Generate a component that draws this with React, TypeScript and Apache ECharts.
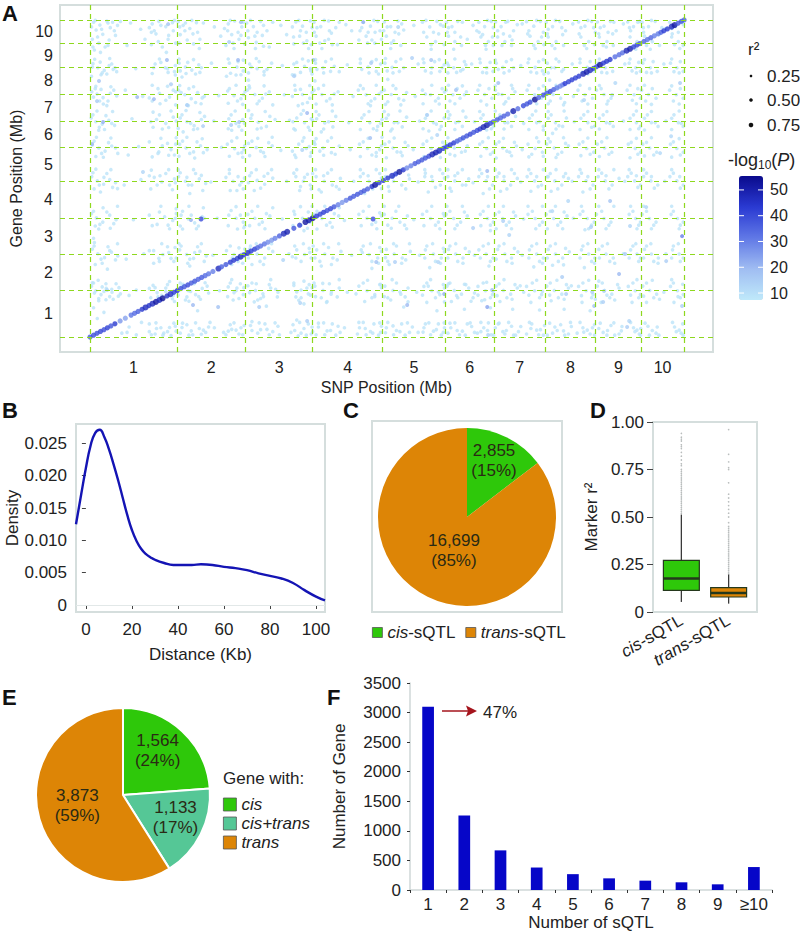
import React, { useEffect, useRef } from "react";
import * as echarts from "echarts";

const FONT = "'Liberation Sans', Arial, sans-serif";
const INK = "#222222";
const FRAME = "#d5dedd";
const GREEN = "#2ec80a";
const TEAL = "#55c796";
const ORANGE = "#dd8506";
const BLUE = "#0606c8";

// Panel A: chromosome boundaries (cumulative Mb)
const chromEdges = [0, 301, 538, 770, 1012, 1229, 1398, 1574, 1749, 1906, 2055];
const chromNames = ["1", "2", "3", "4", "5", "6", "7", "8", "9", "10"];
const chromMids = chromNames.map((_, i) => (chromEdges[i] + chromEdges[i + 1]) / 2);

// Background light points, flat x,y pairs
const bgChr1 = [12,2040,34,2022,58,2048,21,1990,70,2005,44,1962,8,1930,30,1905,52,1880,15,1860,66,1925,88,1955,10,1772,27,1745,49,1728,66,1760,5,1690,38,1700,80,1735,18,1610,6,1590,24,1575,45,1552,70,1580,92,1562,33,1530,58,1500,4,1420,20,1395,42,1380,65,1405,85,1372,30,1340,8,1245,30,1225,52,1205,75,1238,96,1190,20,1170,6,1040,25,1012,47,990,68,1020,88,1000,14,960,36,940,5,800,22,772,44,745,68,790,90,760,30,700,12,640,8,570,27,540,50,515,74,550,96,525,18,470,60,440,5,330,20,300,38,275,56,315,76,290,98,265,30,235,12,190,48,160,25,120,140,2035,175,1995,128,1890,190,1930,158,1740,122,1600,182,1560,145,1415,168,1235,132,1180,176,1020,118,985,150,760,186,540,125,505,160,305,135,270,178,95,128,30,160,14,215,2030,238,2046,262,2012,285,2038,228,1965,270,1930,296,1905,212,1895,250,1880,225,1770,260,1745,292,1720,240,1580,275,1555,215,1530,296,1590,230,1410,262,1385,288,1425,218,1360,250,1240,280,1215,235,1190,296,1250,222,1035,248,1005,275,985,292,1025,210,960,258,780,286,755,232,730,298,800,220,560,252,535,280,510,240,490,294,580,225,320,262,295,288,270,210,255,240,235,230,55,255,25,280,10,295,70,212,15];
const bgChr2 = [305,2044,322,2020,345,2000,368,2038,312,1960,336,1925,358,1900,380,1930,308,1775,330,1750,352,1730,376,1765,318,1685,306,1600,328,1570,350,1545,372,1585,395,1560,340,1500,312,1420,335,1395,360,1370,385,1410,322,1330,310,1250,332,1225,358,1200,382,1240,405,1215,306,1040,330,1010,352,985,378,1025,400,995,345,930,315,790,340,765,362,740,388,780,320,700,310,565,334,535,358,510,380,555,402,525,345,460,318,330,340,300,365,275,388,315,410,285,330,240,372,170,320,90,350,40,385,18,410,65,430,2010,452,1950,420,1775,445,1565,428,1400,455,1230,418,1005,440,770,425,530,448,300,430,60,478,2030,500,2048,525,2010,490,1960,515,1930,535,1900,470,1890,482,1775,508,1750,530,1725,472,1690,476,1595,498,1565,522,1545,536,1590,480,1415,505,1385,528,1410,490,1340,475,1250,500,1220,525,1195,535,1240,470,1035,495,1010,518,985,534,1030,485,950,480,790,505,770,530,745,510,700,472,560,498,535,522,515,535,570,490,470,478,325,505,300,530,275,495,240,490,50,515,20,533,75,470,15];
const bgChr3 = [542,2035,565,2012,590,2046,612,1985,548,1940,575,1910,600,1885,552,1770,578,1740,602,1720,548,1665,544,1600,570,1572,596,1548,620,1590,556,1418,582,1392,610,1365,640,1410,548,1255,575,1228,600,1195,630,1240,552,1045,578,1015,604,990,632,1030,568,950,546,795,570,770,596,745,622,785,552,570,578,538,604,512,632,555,560,470,546,332,572,302,598,280,625,318,650,290,580,240,610,200,560,100,590,48,620,15,650,70,660,2020,680,1960,665,1760,672,1570,690,1405,660,1210,680,1010,665,765,688,540,712,2042,735,2015,762,2048,725,1950,750,1920,765,1895,705,1900,715,1780,742,1755,764,1725,700,1700,710,1600,735,1572,760,1548,720,1500,715,1420,742,1390,765,1415,705,1350,722,1250,748,1222,765,1195,700,1205,712,1040,738,1010,762,985,725,950,708,795,735,770,760,745,740,690,715,565,742,535,765,512,700,520,705,335,730,305,755,280,768,320,712,260,740,215,715,110,740,55,765,20,695,30,720,8];
const bgChr4 = [775,2040,798,2012,825,2048,850,2005,782,1950,812,1920,838,1895,780,1775,806,1745,832,1722,778,1660,775,1600,802,1572,830,1545,858,1590,784,1415,812,1388,840,1362,800,1330,778,1250,806,1225,835,1195,862,1238,782,1040,810,1010,838,985,866,1028,800,940,776,795,802,768,830,742,860,785,784,565,812,538,840,512,868,555,800,460,778,330,806,302,834,278,862,318,890,290,820,230,790,90,820,40,850,12,880,60,885,2025,905,1985,890,1765,910,1560,895,1390,900,1215,912,1010,880,755,905,530,920,280,930,1925,945,2040,970,2015,995,2046,955,1950,985,1905,1008,1930,935,1775,962,1750,990,1722,1005,1770,928,1600,955,1570,985,1545,1008,1590,970,1500,940,1420,968,1390,995,1365,1010,1410,932,1250,960,1222,990,1195,1008,1240,935,1040,965,1010,992,985,1008,1030,950,930,930,795,958,770,988,745,1008,785,938,565,965,535,995,512,1008,555,975,445,930,330,958,300,985,275,1008,320,950,230,945,95,970,35,998,12,1008,70,925,20];
const bgChr5 = [1018,2042,1040,2012,1065,2048,1085,1990,1025,1950,1050,1920,1075,1890,1020,1775,1045,1748,1070,1722,1030,1670,1018,1600,1042,1572,1068,1545,1095,1585,1025,1418,1052,1390,1080,1362,1040,1335,1020,1250,1048,1225,1075,1198,1100,1240,1022,1040,1050,1010,1078,985,1105,1025,1035,945,1018,795,1045,770,1072,745,1098,785,1025,568,1052,538,1080,512,1108,555,1035,470,1020,330,1048,302,1075,278,1100,318,1040,240,1085,195,1030,95,1060,42,1090,12,1115,65,1120,2020,1135,1770,1125,1560,1140,1400,1118,1215,1135,1005,1120,760,1140,530,1130,290,1135,30,1150,2040,1175,2010,1200,2046,1222,2015,1165,1945,1195,1915,1225,1895,1155,1778,1182,1745,1210,1722,1225,1765,1150,1600,1178,1570,1205,1548,1226,1588,1160,1418,1188,1390,1215,1365,1172,1335,1152,1250,1180,1222,1208,1198,1226,1238,1158,1040,1185,1012,1212,985,1226,1030,1170,940,1150,795,1178,768,1205,745,1226,785,1160,565,1188,538,1215,512,1226,552,1175,450,1155,328,1182,300,1210,275,1226,318,1165,225,1200,170,1160,85,1188,38,1215,12,1226,60];
const bgChr6 = [1233,2040,1252,2012,1272,2046,1240,1950,1262,1915,1285,1890,1236,1775,1258,1745,1282,1725,1300,1765,1232,1600,1255,1570,1280,1548,1302,1590,1240,1418,1265,1390,1288,1365,1235,1250,1260,1225,1285,1198,1305,1240,1238,1040,1262,1012,1288,985,1310,1025,1250,945,1232,795,1258,768,1282,745,1305,785,1240,568,1265,538,1290,512,1312,552,1235,330,1260,302,1285,278,1310,318,1330,285,1250,230,1295,180,1245,90,1270,42,1298,12,1320,68,1325,2020,1320,1770,1330,1395,1325,1000,1330,530,1345,2040,1365,2012,1388,2046,1352,1945,1378,1915,1395,1890,1350,1778,1372,1745,1394,1722,1342,1600,1365,1572,1390,1548,1352,1418,1378,1390,1396,1365,1348,1250,1372,1222,1394,1198,1345,1040,1370,1012,1392,985,1360,930,1350,795,1375,768,1395,745,1385,690,1345,565,1370,538,1394,512,1380,460,1342,328,1368,300,1392,275,1355,235,1385,190,1352,95,1375,42,1396,12,1340,25];
const bgChr7 = [1403,2042,1422,2012,1445,2046,1465,1985,1410,1945,1435,1915,1458,1890,1405,1775,1428,1748,1450,1725,1402,1600,1425,1572,1448,1548,1470,1590,1410,1418,1435,1390,1458,1365,1404,1250,1428,1225,1452,1198,1475,1238,1408,1040,1432,1012,1455,985,1478,1028,1420,945,1402,795,1428,768,1450,745,1472,785,1410,568,1435,538,1458,512,1480,552,1405,330,1430,302,1455,278,1478,318,1418,230,1462,180,1415,90,1440,42,1465,12,1490,68,1495,2030,1490,1760,1500,1385,1495,1215,1490,1005,1500,765,1495,530,1500,290,1510,2044,1535,2015,1558,2046,1522,1950,1550,1915,1570,1895,1515,1778,1540,1748,1565,1725,1512,1600,1538,1570,1562,1548,1520,1418,1545,1390,1568,1365,1515,1250,1540,1222,1565,1198,1512,1040,1538,1012,1562,985,1525,945,1515,795,1540,768,1565,745,1520,565,1545,538,1568,512,1535,455,1510,328,1538,300,1562,275,1525,225,1555,175,1520,95,1545,45,1568,12,1510,20];
const bgChr8 = [1578,2040,1600,2012,1625,2046,1645,1985,1585,1945,1612,1915,1638,1890,1582,1775,1608,1745,1632,1722,1590,1665,1578,1600,1602,1572,1628,1548,1585,1418,1610,1390,1635,1365,1600,1320,1580,1250,1606,1225,1632,1198,1655,1240,1582,1040,1608,1012,1632,985,1655,1028,1595,945,1578,795,1604,768,1628,745,1650,785,1585,568,1610,538,1635,512,1658,552,1600,465,1580,330,1606,302,1632,278,1655,318,1595,235,1640,180,1590,90,1616,42,1642,12,1665,68,1670,2030,1668,1770,1672,1560,1675,1395,1668,1010,1672,770,1690,2042,1712,2015,1735,2046,1698,1945,1725,1915,1745,1895,1695,1778,1720,1748,1742,1725,1688,1600,1712,1570,1738,1548,1698,1418,1722,1390,1745,1365,1692,1250,1718,1222,1742,1198,1690,1040,1716,1012,1740,985,1705,940,1695,795,1720,768,1744,745,1712,695,1700,565,1725,538,1746,512,1710,450,1690,328,1716,300,1740,275,1702,225,1730,170,1695,95,1720,45,1745,12,1685,25];
const bgChr9 = [1755,2042,1778,2015,1800,2046,1820,1985,1762,1945,1788,1915,1810,1890,1758,1775,1782,1745,1808,1722,1752,1600,1778,1572,1802,1548,1762,1418,1786,1390,1810,1365,1755,1250,1780,1225,1805,1198,1758,1040,1782,1012,1806,985,1830,1028,1752,795,1778,768,1802,745,1760,568,1785,538,1810,512,1755,330,1780,302,1805,278,1830,318,1768,225,1765,90,1790,42,1815,12,1840,68,1845,2030,1850,1770,1845,1400,1850,1010,1845,540,1860,2042,1880,2012,1902,2046,1868,1945,1892,1915,1865,1775,1888,1745,1904,1722,1858,1600,1882,1570,1904,1548,1868,1418,1890,1390,1904,1365,1862,1250,1886,1222,1904,1198,1860,1040,1884,1012,1904,985,1865,795,1888,768,1904,745,1870,565,1892,538,1904,512,1862,328,1886,300,1904,275,1875,225,1870,95,1892,45,1904,12];
const bgChr10 = [1910,2040,1932,2012,1955,2046,1978,2005,1918,1950,1945,1915,1970,1890,1912,1775,1938,1745,1962,1722,1908,1600,1932,1572,1958,1548,1918,1418,1942,1390,1965,1365,1912,1250,1936,1225,1960,1198,1915,1040,1940,1012,1964,985,1910,795,1935,768,1958,745,1918,568,1942,538,1966,512,1912,330,1936,302,1960,278,1925,225,1920,90,1945,42,1968,12,1990,2000,1985,1770,1992,1400,1988,1010,1992,540,1985,290,2005,2040,2025,2012,2048,2046,2012,1945,2035,1915,2052,1890,2008,1775,2030,1745,2052,1722,2005,1600,2028,1570,2052,1548,2012,1418,2035,1390,2052,1365,2008,1250,2030,1222,2052,1198,2006,1040,2030,1012,2052,985,2010,795,2032,768,2052,745,2015,565,2038,538,2052,512,2008,328,2032,300,2052,275,2020,225,2015,95,2038,45,2052,12];
const bgBandTop = [5,2010,18,2052,40,1995,78,2040,95,2020,26,1945,62,1890,105,2045,205,2005,222,1985,245,2020,272,1955,292,2052,310,2010,328,1985,352,2052,372,1975,392,2035,465,2000,485,2052,512,1975,530,2040,495,1905,555,2052,578,1975,600,2020,632,2040,570,1950,700,2010,722,2052,748,1975,768,2005,738,1905,785,2005,810,2052,835,1970,862,2040,795,1905,825,1930,940,2005,962,1975,982,2052,1003,1985,975,1925,1028,2010,1055,1975,1078,2030,1042,1905,1162,2052,1188,1975,1212,2025,1180,1895,1240,2005,1262,1975,1288,2040,1305,1930,1338,1985,1358,1960,1375,2052,1395,2005,1368,1890,1410,1985,1438,2040,1452,1950,1478,2025,1425,1890,1518,1985,1545,2052,1568,1975,1535,1890,1585,1995,1610,2052,1635,1960,1598,1890,1698,2005,1722,2052,1748,1975,1710,1890,1765,2005,1792,1975,1812,2040,1775,1890,1870,1985,1895,2040,1885,1890,1915,1975,1942,2052,1968,1960,1925,1890,2012,2000,2035,1975,2052,2025,2022,1895];
const bgBand1750 = [8,1750,35,1782,58,1705,75,1770,92,1720,220,1745,245,1780,270,1715,295,1760,312,1725,338,1780,365,1705,385,1745,486,1710,512,1785,522,1700,558,1750,585,1785,612,1735,705,1770,728,1715,755,1790,768,1705,785,1735,815,1785,845,1755,940,1735,975,1785,998,1705,1028,1725,1058,1785,1085,1745,1160,1725,1192,1785,1218,1745,1240,1760,1268,1715,1295,1785,1358,1715,1384,1780,1412,1735,1440,1785,1465,1745,1525,1718,1552,1785,1570,1705,1595,1745,1622,1785,1702,1715,1730,1785,1770,1715,1795,1785,1875,1725,1898,1780,1925,1715,1948,1785,2020,1720,2042,1785];
const bgBand1560 = [12,1555,38,1605,62,1530,82,1600,205,1550,235,1610,262,1535,288,1600,315,1585,342,1610,365,1520,388,1550,482,1610,510,1530,530,1570,552,1615,585,1530,608,1575,700,1560,728,1605,752,1520,768,1585,790,1610,818,1530,845,1575,945,1610,972,1530,1000,1575,1030,1525,1058,1610,1085,1535,1160,1575,1195,1530,1218,1610,1245,1530,1270,1610,1295,1570,1352,1530,1380,1610,1412,1575,1438,1525,1462,1610,1528,1535,1552,1610,1592,1530,1618,1610,1642,1520,1702,1530,1728,1610,1768,1610,1792,1530,1876,1535,1895,1610,1922,1530,1945,1610,2018,1530,2042,1610];
const bgBand1400 = [10,1440,32,1360,55,1435,75,1385,210,1395,240,1440,272,1358,298,1400,318,1440,348,1385,372,1350,396,1430,488,1440,515,1365,534,1385,560,1440,592,1355,622,1430,702,1395,730,1445,755,1360,770,1405,792,1440,825,1395,850,1430,948,1440,980,1350,1005,1385,1032,1440,1065,1390,1095,1425,1165,1440,1198,1380,1225,1420,1245,1440,1275,1395,1300,1425,1360,1440,1388,1350,1418,1440,1445,1390,1472,1430,1530,1440,1555,1395,1595,1440,1622,1370,1648,1420,1708,1440,1735,1360,1775,1440,1798,1385,1880,1440,1898,1350,1928,1440,1955,1390,2020,1440,2045,1385];
const bgBand1230 = [14,1270,40,1190,64,1260,88,1225,205,1265,238,1200,268,1255,292,1180,320,1270,345,1190,370,1265,392,1195,490,1270,512,1190,532,1215,560,1270,590,1205,618,1260,708,1180,735,1270,758,1235,775,1265,795,1205,822,1270,848,1185,945,1265,975,1180,1002,1215,1035,1265,1062,1200,1090,1262,1165,1270,1192,1185,1220,1262,1245,1185,1272,1265,1298,1205,1358,1265,1385,1185,1415,1265,1442,1205,1468,1262,1528,1185,1552,1265,1592,1265,1618,1185,1645,1255,1705,1265,1730,1185,1770,1265,1795,1185,1872,1262,1895,1185,1925,1262,1950,1180,2018,1265,2042,1180];
const bgBand1020 = [10,1065,32,985,58,1060,78,970,205,1045,232,985,262,1060,285,955,312,1065,340,985,365,1060,390,950,482,1060,508,950,525,1005,558,1065,590,965,615,1060,705,1062,728,975,752,1055,770,1060,792,955,822,1062,852,975,945,1060,978,960,1002,1060,1032,975,1062,1062,1092,960,1160,1062,1195,970,1220,1060,1245,965,1272,1062,1300,985,1355,1060,1382,960,1415,1062,1442,960,1468,1060,1525,1060,1550,975,1592,1060,1618,960,1645,1060,1700,1062,1730,960,1770,1062,1795,960,1872,1062,1895,970,1925,1062,1952,965,2018,1062,2042,965];
const bgBand770 = [12,815,34,730,58,810,82,735,205,790,240,810,270,725,295,770,320,815,350,790,375,720,395,770,488,820,520,790,535,720,560,815,585,730,610,800,705,815,730,725,755,810,770,790,785,815,818,725,845,800,945,815,975,730,1002,805,1030,725,1058,815,1088,725,1165,815,1195,725,1222,800,1245,815,1270,725,1295,810,1360,815,1385,725,1415,810,1440,725,1465,810,1530,815,1555,725,1592,815,1618,725,1640,810,1705,815,1735,725,1770,815,1795,725,1878,815,1898,725,1925,815,1950,725,2018,815,2042,725];
const bgBand540 = [14,590,38,505,62,585,88,500,205,560,238,510,268,585,290,490,315,590,345,505,372,585,395,490,485,590,512,490,528,540,555,590,588,490,618,575,708,590,730,490,758,575,772,590,795,490,825,580,855,500,945,590,975,490,1002,580,1030,490,1060,590,1092,500,1165,590,1195,490,1222,575,1245,590,1272,490,1298,575,1360,590,1385,490,1415,590,1442,490,1468,575,1528,590,1555,490,1592,590,1620,490,1645,575,1705,590,1735,490,1772,590,1798,490,1878,590,1898,490,1925,590,1950,490,2018,590,2042,490];
const bgBand300 = [12,350,30,250,55,345,80,245,100,320,205,315,235,260,268,340,292,230,312,350,335,260,360,345,382,245,405,330,485,350,515,250,532,320,560,350,590,250,620,340,648,260,705,350,730,255,758,340,775,350,800,255,828,345,855,260,945,350,975,255,1002,340,1030,255,1060,350,1090,260,1165,350,1195,255,1222,340,1245,350,1272,255,1300,340,1325,255,1360,350,1385,255,1415,345,1442,255,1470,340,1530,350,1555,255,1592,350,1620,255,1648,340,1705,350,1735,255,1772,350,1798,255,1825,340,1878,350,1898,255,1925,350,1950,255,2018,350,2042,255];
const bgBandLow = [205,85,225,20,245,60,268,35,290,90,312,25,335,80,355,15,378,55,400,30,415,95,462,30,485,80,505,45,528,15,555,75,580,25,605,85,632,35,655,15,702,80,730,25,755,85,770,35,790,65,812,15,838,85,865,30,932,60,955,15,982,85,1005,30,1025,60,1050,15,1078,85,1105,30,1155,60,1178,15,1205,85,1222,30,1248,60,1278,15,1305,85,1330,30,1362,60,1388,15,1412,85,1435,20,1458,70,1482,35,1525,55,1552,15,1572,75,1600,25,1628,80,1655,20,1705,60,1730,20,1745,80,1775,30,1802,75,1830,20,1880,60,1900,20,1930,70,1958,25,2022,65,2045,25];
const bgHot300 = [15,285,42,325,68,262,90,345,28,368,55,242,8,352,75,310,48,295,105,280,218,335,248,270,275,360,232,288,262,318,285,248,305,272,322,342,348,295,376,262,342,232,398,352,498,288,520,345,476,262,508,318,490,372,552,288,575,345,600,262,625,372,642,310,568,228,715,292,740,362,762,272,722,238,750,318,780,262,805,348,835,292,862,372,818,225,1005,342,985,262,960,368,1018,262,1045,372,1072,292,1100,228,1150,272,1178,372,1205,292,1226,228,1170,330,1240,345,1268,268,1295,342,1318,232,1342,272,1372,355,1395,295,1365,242,1408,268,1432,372,1460,245,1488,332,1518,272,1545,368,1565,295,1590,272,1615,368,1640,245,1665,332,1700,268,1725,368,1748,245,1760,362,1788,272,1815,240,1870,272,1892,372,1915,265,1945,368,1970,245,2012,372,2034,262,2050,342];
const bgHotLow = [110,25,135,65,205,35,228,92,252,12,275,62,298,38,318,62,342,12,365,92,392,45,478,38,498,92,522,60,560,42,585,92,612,50,640,92,708,42,725,95,748,12,768,65,782,15,808,92,832,42,858,70,930,95,952,55,978,25,1002,92,1022,28,1048,72,1072,35,1098,92,1152,32,1172,92,1198,48,1225,92,1238,25,1262,92,1288,38,1315,92,1352,35,1378,92,1402,60,1428,35,1448,95,1472,12,1528,85,1558,48,1582,12,1608,65,1638,40,1662,95,1708,32,1738,60,1760,55,1788,12,1812,92,1838,40,1885,35,1905,55,1935,12,1962,65,2028,35,2050,85];
const bgHot540 = [15,612,42,478,68,560,95,605,220,478,248,605,272,548,298,512,308,605,338,478,362,548,385,605,492,512,515,578,528,478,548,512,575,605,600,470,628,605,712,512,738,605,760,548,778,512,808,605,835,470,860,605,942,548,970,605,998,478,1022,515,1050,605,1078,478,1105,605,1158,512,1185,605,1212,478,1238,512,1265,605,1290,478,1350,512,1378,605,1405,505,1432,605,1460,478,1518,512,1545,605,1565,478,1582,512,1610,605,1638,468,1695,512,1722,605,1745,478,1762,512,1790,605,1815,478,1865,512,1888,605,1915,512,1940,605,1965,478,2012,512,2035,605];
const bgHot770 = [18,720,45,838,70,705,95,848,215,722,245,848,275,702,298,832,312,720,342,848,368,702,392,838,478,722,505,845,532,708,552,722,580,848,605,702,632,838,702,722,728,845,752,705,768,848,785,700,812,848,838,712,862,838,938,722,965,848,992,702,1018,848,1042,705,1068,848,1095,702,1155,722,1182,848,1210,702,1235,848,1262,702,1288,848,1352,722,1378,848,1405,702,1430,848,1458,702,1515,848,1542,702,1565,848,1582,702,1610,848,1635,702,1700,848,1725,702,1760,848,1785,702,1812,848,1870,848,1892,702,1915,848,1942,702,2012,848,2038,702];
const bgHot1020 = [20,1088,48,1035,72,1085,95,962,212,1082,242,1045,272,1085,295,1000,305,1085,335,1035,358,1085,385,1048,482,1085,512,1040,530,960,548,1000,575,1085,602,1042,628,1085,715,1085,742,1035,765,960,780,1085,808,1045,835,1085,862,958,935,1085,962,1045,990,1085,1008,962,1022,1085,1048,1040,1075,1085,1102,1050,1158,1085,1182,1040,1210,1085,1238,1085,1262,1045,1288,1085,1348,1085,1375,1040,1402,1085,1432,1040,1458,1085,1518,1085,1545,1040,1568,1085,1585,1040,1612,1085,1638,1040,1695,1085,1722,1040,1760,1085,1785,1045,1812,1085,1865,1085,1890,1045,1915,1085,1942,1040,2012,1085,2040,1040];
const bgHot1230 = [22,1295,46,1165,72,1290,215,1168,245,1288,272,1178,298,1292,308,1172,335,1295,362,1160,388,1285,482,1172,508,1292,528,1165,552,1176,580,1288,605,1170,630,1295,712,1164,740,1292,762,1172,782,1286,808,1178,835,1292,935,1170,962,1288,990,1172,1010,1295,1025,1162,1052,1290,1080,1176,1155,1170,1182,1290,1212,1164,1238,1292,1262,1176,1288,1284,1352,1172,1378,1292,1405,1160,1430,1288,1458,1175,1518,1168,1545,1292,1568,1172,1585,1286,1612,1164,1638,1292,1698,1176,1722,1290,1762,1170,1788,1292,1868,1162,1890,1288,1918,1174,1942,1292,2012,1166,2038,1286];
const bgHot1400 = [24,1465,50,1345,78,1462,218,1458,250,1348,280,1465,305,1352,332,1468,358,1345,380,1455,478,1350,502,1465,525,1340,548,1468,578,1348,606,1462,710,1342,738,1468,760,1340,782,1462,808,1348,838,1465,935,1345,965,1462,992,1340,1018,1462,1045,1348,1072,1465,1152,1350,1180,1465,1210,1345,1238,1462,1262,1345,1290,1465,1348,1462,1372,1342,1402,1465,1432,1348,1460,1462,1518,1345,1542,1465,1568,1342,1585,1462,1612,1348,1640,1465,1695,1345,1722,1462,1762,1348,1788,1462,1868,1345,1890,1465,1918,1342,1942,1462,2012,1345,2038,1465];
const bgHot1560 = [20,1625,46,1510,72,1622,215,1632,242,1512,268,1625,296,1505,310,1630,335,1505,358,1622,384,1512,478,1515,505,1632,528,1508,550,1628,578,1512,602,1628,632,1505,708,1632,735,1512,760,1630,782,1510,808,1632,838,1505,935,1630,962,1512,990,1632,1022,1508,1048,1630,1075,1505,1152,1512,1182,1632,1208,1510,1240,1632,1262,1512,1288,1628,1348,1632,1372,1505,1402,1628,1432,1510,1458,1632,1518,1632,1545,1512,1568,1628,1585,1512,1612,1632,1638,1505,1695,1632,1722,1510,1762,1630,1788,1510,1868,1632,1890,1512,1918,1632,1942,1508,2012,1628,2038,1510];
const bgHot1750 = [16,1800,42,1712,68,1805,86,1745,215,1708,240,1802,268,1740,295,1698,308,1802,332,1708,358,1798,380,1715,478,1802,505,1698,530,1795,548,1712,575,1805,602,1698,628,1775,708,1698,735,1802,762,1740,780,1798,808,1712,835,1802,862,1720,935,1802,965,1712,990,1798,1022,1805,1048,1712,1075,1802,1152,1802,1180,1712,1208,1798,1238,1712,1262,1802,1290,1735,1348,1802,1372,1712,1402,1795,1432,1712,1458,1798,1518,1802,1545,1712,1568,1798,1585,1712,1612,1802,1638,1735,1695,1802,1722,1705,1762,1802,1788,1712,1868,1802,1890,1712,1918,1798,1942,1712,2012,1802,2038,1712];
const bgHotTop = [10,1880,36,1845,62,2035,84,1985,212,1975,236,1915,264,1845,288,1985,308,1905,330,2035,356,1965,378,1870,476,1985,498,1870,522,1955,546,1985,572,1870,596,1955,620,1880,704,1945,728,1985,756,1870,776,1975,802,1870,828,1985,856,1895,934,1985,960,1905,986,1975,1016,1985,1040,1870,1068,1965,1154,1975,1180,1865,1206,1965,1236,1975,1258,1865,1282,1945,1346,1975,1370,1865,1392,1945,1430,1965,1460,1925,1514,1965,1540,1870,1562,1945,1582,1965,1608,1870,1632,2005,1692,1965,1718,1870,1742,2005,1760,1965,1786,1880,1808,1965,1866,2005,1888,1865,1914,2005,1938,1865,2014,1965,2040,1870];
const bgP = 9;

// Off-diagonal stronger points: snp, gene, -log10(P)
const midPoints = [[270,2028,18],[522,2041,18],[945,2041,22],[481,1912,15],[266,1795,20],[512,1795,20],[772,1795,18],[972,1776,15],[31,1659,17],[280,1639,15],[706,1691,14],[163,1555,20],[221,1542,20],[24,1529,16],[336,1503,14],[751,1452,20],[45,1393,22],[391,1367,15],[488,1374,15],[516,1393,17],[969,1290,18],[7,1251,20],[734,1212,13],[183,1069,13],[384,765,40],[349,758,22],[979,765,40],[990,486,18],[356,207,20],[443,194,18],[585,194,15],[751,104,15],[59,305,12],[727,220,13],[668,499,13],[1066,2009,13],[1114,1808,14],[1180,1795,17],[1266,1601,17],[1412,1646,18],[1166,1439,14],[1201,1309,13],[1374,1076,20],[2041,1646,15],[1709,1536,13],[1817,1646,12],[2010,1302,12],[1972,1192,12],[1806,1568,12],[1097,207,20],[1225,279,22],[1374,194,24],[1391,305,18],[1325,706,14],[1429,752,14],[1450,661,13],[1055,486,14],[1204,486,13],[1599,816,12],[1654,881,12],[1733,713,14],[1868,719,13],[1799,881,17],[1924,842,13],[2048,654,30],[1851,538,15],[1993,492,15],[1830,408,20],[1633,389,15],[1647,279,14],[1737,292,14],[1778,298,13],[1744,201,18],[1775,227,14],[1865,104,13],[1858,65,15],[2048,201,14],[1377,13,13]];

// Diagonal (cis) points: position, -log10(P)
const diagPoints = [[0,38],[12,40],[24,40],[36,41],[48,40],[60,42],[72,38],[86,44],[104,26],[122,24],[142,32],[154,34],[166,36],[180,44],[192,47],[204,45],[216,47],[228,52],[240,47],[251,54],[266,45],[278,46],[290,43],[302,45],[314,40],[326,38],[338,40],[350,37],[362,38],[374,36],[386,37],[398,34],[410,32],[425,30],[444,47],[455,36],[470,38],[485,43],[497,44],[509,43],[521,48],[533,44],[545,47],[557,43],[569,42],[579,36],[590,33],[603,32],[615,28],[628,26],[640,30],[655,36],[670,47],[682,49],[705,38],[725,42],[745,52],[757,50],[770,54],[784,43],[796,41],[808,43],[820,40],[832,41],[844,38],[858,30],[872,26],[886,30],[900,38],[912,37],[925,38],[937,36],[948,38],[960,36],[975,45],[986,52],[1000,43],[1015,44],[1030,44],[1045,46],[1057,44],[1070,52],[1084,44],[1096,28],[1110,30],[1124,37],[1136,37],[1148,38],[1160,38],[1172,40],[1184,48],[1196,49],[1208,47],[1222,43],[1234,42],[1246,44],[1258,43],[1270,35],[1280,33],[1291,38],[1303,38],[1315,41],[1327,38],[1339,40],[1349,43],[1361,49],[1373,50],[1385,40],[1395,36],[1408,36],[1420,35],[1432,36],[1445,35],[1464,49],[1480,33],[1499,40],[1511,38],[1522,40],[1539,54],[1552,35],[1568,40],[1580,38],[1592,41],[1604,36],[1615,30],[1626,29],[1635,29],[1643,43],[1655,41],[1667,43],[1679,42],[1691,43],[1706,48],[1718,50],[1730,47],[1742,43],[1752,41],[1764,54],[1776,43],[1787,44],[1799,44],[1816,33],[1830,33],[1842,33],[1856,48],[1868,50],[1880,41],[1892,41],[1902,38],[1916,35],[1928,33],[1940,35],[1952,30],[1965,30],[1975,36],[1985,43],[1997,44],[2012,47],[2022,52],[2034,38],[2046,38],[2055,36]];

const r2Values = ["0.25", "0.50", "0.75"];
const colorTicks = [10, 20, 30, 40, 50];

// Panel B
const densityX = [-4.3,-2,0,2,4,6,8,10,12,14,16,18,20,22,24,26,28,30,34,38,42,46,50,55,60,65,70,75,80,85,90,95,100,103.9];
const densityY = [.0125,.0172,.0212,.0246,.0266,.0271,.026,.0241,.0218,.0193,.0166,.0139,.0116,.0099,.0087,.0079,.0074,.007,.0065,.0062,.0062,.0062,.0063,.0062,.0059,.0057,.0054,.0049,.0045,.0041,.0034,.0023,.0013,.0007];
const densityXTicks = [0, 20, 40, 60, 80, 100];
const densityYTicks = [0, 0.005, 0.01, 0.015, 0.02, 0.025];

// Panel C
const sqtlNames = ["cis-sQTL", "trans-sQTL"];
const sqtlCounts = [2855, 16699];
const sqtlLabels = ["2,855\n(15%)", "16,699\n(85%)"];

// Panel D: x, min, Q1, median, Q3, max
const boxCis = [1, 0.053, 0.114, 0.176, 0.272, 0.513];
const boxTrans = [2, 0.044, 0.079, 0.1, 0.128, 0.197];
const cisOutliers = [.52,.53,.54,.55,.56,.57,.58,.59,.6,.61,.62,.63,.64,.65,.66,.67,.68,.69,.7,.71,.72,.73,.74,.75,.77,.78,.8,.82,.84,.86,.87,.88,.9,.91,.92,.94];
const transOutliers = [.2,.21,.22,.23,.24,.25,.26,.27,.28,.29,.3,.31,.32,.33,.34,.35,.36,.37,.38,.39,.4,.41,.42,.43,.44,.45,.47,.5,.52,.54,.56,.58,.6,.62,.68,.75,.76,.79,.83,.96];
const boxNames = ["cis-sQTL", "trans-sQTL"];

// Panel E
const geneNames = ["cis", "cis+trans", "trans"];
const geneCounts = [1564, 1133, 3873];
const geneLabels = ["1,564\n(24%)", "1,133\n(17%)", "3,873\n(59%)"];

// Panel F
const sqtlBins = ["1", "2", "3", "4", "5", "6", "7", "8", "9", "≥10"];
const geneNumbers = [3100, 1260, 670, 380, 268, 197, 158, 130, 96, 388];

const bgAll = [bgChr1, bgChr2, bgChr3, bgChr4, bgChr5, bgChr6, bgChr7, bgChr8, bgChr9, bgChr10, bgBandTop, bgBand1750, bgBand1560, bgBand1400, bgBand1230, bgBand1020, bgBand770, bgBand540, bgBand300, bgBandLow, bgHot300, bgHotLow, bgHot540, bgHot770, bgHot1020, bgHot1230, bgHot1400, bgHot1560, bgHot1750, bgHotTop];
function pairs(flat: number[]) {
  const out: number[][] = [];
  for (let i = 0; i + 1 < flat.length; i += 2) out.push([flat[i], flat[i + 1], bgP]);
  return out;
}

function txt(text: string, x: number, y: number, extra: any = {}) {
  return {
    type: "text",
    silent: true,
    z: 50,
    style: {
      text, x, y, fill: INK, textAlign: "left", textVerticalAlign: "middle",
      fontFamily: FONT, fontSize: 17, ...extra,
    },
  };
}
const bold = { fontWeight: "bold", fontSize: 22, fill: "#111111" };

const barBottom = 300;
const pxPerP = 2.578;
const lowP = 7.3;
const highP = lowP + 124 / pxPerP;
const tickY = (v: number) => barBottom - (v - lowP) * pxPerP;

function buildOption(): any {
  const axisFont = { color: INK, fontFamily: FONT, fontSize: 17 };
  const nameFont = { color: INK, fontFamily: FONT, fontSize: 17 };
  const darkTick = { show: true, length: 4, lineStyle: { color: "#444", width: 1 } };

  const graphicEls: any[] = [
    txt("A", 2, 13, bold), txt("B", 2, 410, bold), txt("C", 343, 410, bold),
    txt("D", 590, 410, bold), txt("E", 2, 697, bold), txt("F", 327, 697, bold),
    txt("r²", 748, 49),
    ...r2Values.map((t, i) => txt(t, 767, [76, 100, 125][i])),
    ...r2Values.map((_, i) => ({
      type: "circle", silent: true, z: 50,
      shape: { cx: 751, cy: [76, 100, 125][i], r: [1.3, 1.8, 2.3][i] },
      style: { fill: "#111111" },
    })),
    txt("{b|-log}{s|10}{b|(}{i|P}{b|)}", 728, 160, {
      rich: {
        b: { fontSize: 18, fontFamily: FONT, fill: INK, lineHeight: 22 },
        s: { fontSize: 12, fontFamily: FONT, fill: INK, verticalAlign: "bottom", lineHeight: 12 },
        i: { fontSize: 18, fontStyle: "italic", fontFamily: FONT, fill: INK, lineHeight: 22 },
      },
    }),
    ...colorTicks.map((v) => txt(String(v), 770, tickY(v), { fontSize: 16 })),
    ...colorTicks.flatMap((v) => [
      { type: "line", silent: true, z: 50, shape: { x1: 739, y1: tickY(v), x2: 744, y2: tickY(v) }, style: { stroke: "#ffffff", lineWidth: 1 } },
      { type: "line", silent: true, z: 50, shape: { x1: 758, y1: tickY(v), x2: 763, y2: tickY(v) }, style: { stroke: "#ffffff", lineWidth: 1 } },
    ]),
    // panel C frame
    { type: "rect", silent: true, z: 1, shape: { x: 372, y: 421, width: 190, height: 191 }, style: { fill: "none", stroke: FRAME, lineWidth: 2 } },
    txt("Gene with:", 223, 778),
    // panel F arrow
    { type: "line", silent: true, z: 50, shape: { x1: 442, y1: 711, x2: 470, y2: 711 }, style: { stroke: "#a5141c", lineWidth: 1.5 } },
    { type: "polygon", silent: true, z: 50, shape: { points: [[466, 705.5], [477, 711], [466, 716.5], [468, 711]] }, style: { fill: "#a5141c" } },
    txt("47%", 483, 712),
  ];

  return {
    animation: false,
    backgroundColor: "#ffffff",
    textStyle: { fontFamily: FONT },
    graphic: { elements: graphicEls },
    visualMap: {
      type: "continuous",
      min: lowP,
      max: highP,
      dimension: 2,
      seriesIndex: [0, 1, 2],
      left: 739,
      top: 176,
      padding: 0,
      itemWidth: 24,
      itemHeight: 124,
      calculable: false,
      hoverLink: false,
      inRange: { color: ["#bfe9fa", "#a0bdf2", "#6078e6", "#2a3ad2", "#0a0a8c"] },
    },
    legend: [
      {
        data: sqtlNames, left: 372, top: 624, padding: 0, itemWidth: 10, itemHeight: 10, itemGap: 10,
        selectedMode: false, icon: "rect",
        itemStyle: { borderColor: "#555", borderWidth: 0.8 },
        formatter: (n: string) => `{i|${n.split("-")[0]}}{n|-sQTL}`,
        textStyle: {
          rich: {
            i: { fontStyle: "italic", fontSize: 17, fontFamily: FONT, color: INK },
            n: { fontSize: 17, fontFamily: FONT, color: INK },
          },
        },
      },
      {
        data: geneNames, left: 223, top: 796, padding: 0, orient: "vertical", itemWidth: 13, itemHeight: 13, itemGap: 2,
        selectedMode: false, icon: "rect",
        itemStyle: { borderColor: "#555", borderWidth: 0.8 },
        textStyle: { fontStyle: "italic", fontSize: 17, fontFamily: FONT, color: INK },
      },
    ],
    grid: [
      { left: 60, top: 5, width: 653, height: 347, show: true, borderColor: FRAME, borderWidth: 2, outerBoundsMode: "none" },
      { left: 76, top: 424, width: 249, height: 188, show: true, borderColor: FRAME, borderWidth: 2, outerBoundsMode: "none" },
      { left: 653, top: 422, width: 104, height: 190, show: true, borderColor: FRAME, borderWidth: 2, outerBoundsMode: "none" },
      { left: 410, top: 683, width: 362, height: 207, outerBoundsMode: "none" },
    ],
    xAxis: [
      {
        gridIndex: 0, type: "value", min: -104, max: 2155,
        name: "SNP Position (Mb)", nameLocation: "middle", nameGap: 27, nameTextStyle: { ...nameFont, fontSize: 16 },
        axisLine: { show: false }, axisTick: { show: false }, splitLine: { show: false },
        axisLabel: {
          ...axisFont, fontSize: 16, margin: 7, customValues: chromMids,
          formatter: (v: number) => chromNames[chromMids.findIndex((m) => Math.abs(m - v) < 1)] ?? "",
        },
      },
      {
        gridIndex: 1, type: "value", min: -4.3, max: 103.9,
        name: "Distance (Kb)", nameLocation: "middle", nameGap: 34, nameTextStyle: nameFont,
        axisLine: { show: false }, splitLine: { show: false },
        axisTick: { ...darkTick, customValues: densityXTicks },
        axisLabel: { ...axisFont, margin: 9, customValues: densityXTicks },
      },
      {
        gridIndex: 2, type: "value", min: 0.4, max: 2.6,
        axisLine: { show: false }, axisTick: { show: false }, splitLine: { show: false },
        axisLabel: {
          customValues: [1, 2], rotate: 30, margin: 7, interval: 0,
          formatter: (v: number) => {
            const [a] = boxNames[Math.round(v) - 1].split("-");
            return `{i|${a}}{n|-sQTL}`;
          },
          rich: {
            i: { fontStyle: "italic", fontSize: 17, fontFamily: FONT, color: INK },
            n: { fontSize: 17, fontFamily: FONT, color: INK },
          },
        },
      },
      {
        gridIndex: 3, type: "category", data: sqtlBins,
        name: "Number of sQTL", nameLocation: "middle", nameGap: 24, nameTextStyle: nameFont,
        axisLine: { show: true, lineStyle: { color: "#cfd7d7", width: 1.5 } },
        axisTick: { show: true, length: 3, alignWithLabel: false, lineStyle: { color: "#333" } },
        axisLabel: { ...axisFont, margin: 6, interval: 0 },
      },
    ],
    yAxis: [
      {
        gridIndex: 0, type: "value", min: -97, max: 2152,
        name: "Gene Position (Mb)", nameLocation: "middle", nameGap: 36, nameTextStyle: { ...nameFont, fontSize: 16 },
        axisLine: { show: false }, axisTick: { show: false }, splitLine: { show: false },
        axisLabel: {
          ...axisFont, fontSize: 16, margin: 7, customValues: chromMids,
          formatter: (v: number) => chromNames[chromMids.findIndex((m) => Math.abs(m - v) < 1)] ?? "",
        },
      },
      {
        gridIndex: 1, type: "value", min: -0.00108, max: 0.0280,
        name: "Density", nameLocation: "middle", nameGap: 55, nameTextStyle: nameFont,
        axisLine: { show: false }, splitLine: { show: false },
        axisTick: { ...darkTick, customValues: densityYTicks },
        axisLabel: {
          ...axisFont, margin: 9, customValues: densityYTicks,
          formatter: (v: number) => (v === 0 ? "0" : v.toFixed(3)),
        },
      },
      {
        gridIndex: 2, type: "value", min: 0, max: 1, interval: 0.25,
        name: "Marker r²", nameLocation: "middle", nameGap: 53, nameTextStyle: nameFont,
        axisLine: { show: false }, splitLine: { show: false },
        axisTick: { show: true, length: 6, lineStyle: { color: "#444" } },
        axisLabel: { ...axisFont, margin: 9, formatter: (v: number) => (v === 0 ? "0" : v.toFixed(2)) },
      },
      {
        gridIndex: 3, type: "value", min: 0, max: 3500, interval: 500,
        name: "Number of Gene", nameLocation: "middle", nameGap: 62, nameTextStyle: nameFont,
        axisLine: { show: true, lineStyle: { color: "#cfd7d7", width: 1.5 } },
        splitLine: { show: false },
        axisTick: { show: true, length: 3, lineStyle: { color: "#333" } },
        axisLabel: { ...axisFont, margin: 9, formatter: (v: number) => String(v) },
      },
    ],
    series: [
      {
        type: "scatter", xAxisIndex: 0, yAxisIndex: 0, symbolSize: 3.6, z: 2, silent: true, large: false, progressive: 0,
        data: bgAll.flatMap((f) => pairs(f)),
      },
      {
        type: "scatter", xAxisIndex: 0, yAxisIndex: 0, z: 3, silent: true,
        symbolSize: (v: number[]) => (v[2] >= 35 ? 5 : 4),
        data: midPoints,
      },
      {
        type: "scatter", xAxisIndex: 0, yAxisIndex: 0, z: 4, silent: true,
        symbolSize: (v: number[]) => (v[2] >= 46 ? 6 : 5.2),
        data: diagPoints.map(([p, l]) => [p, p, l]),
      },
      {
        type: "scatter", xAxisIndex: 0, yAxisIndex: 0, z: 5, silent: true, data: [],
        markLine: {
          silent: true, symbol: "none", animation: false, label: { show: false },
          lineStyle: { color: "#8ed81e", type: [5, 4], width: 1.2 },
          data: [
            ...chromEdges.map((v) => ({ xAxis: v })),
            ...chromEdges.map((v) => ({ yAxis: v })),
          ],
        },
      },
      {
        type: "line", xAxisIndex: 1, yAxisIndex: 1, smooth: 0.5, symbol: "none", silent: true,
        lineStyle: { color: "#1414b4", width: 2.4 },
        data: densityX.map((x, i) => [x, densityY[i]]),
        markLine: {
          silent: true, symbol: "none", label: { show: false },
          lineStyle: { color: "#e2e8e8", type: "solid", width: 1 },
          data: [{ yAxis: 0 }],
        },
      },
      {
        type: "pie", center: [467, 517], radius: [0, 89], startAngle: 90, clockwise: true,
        silent: true, avoidLabelOverlap: false,
        data: sqtlNames.map((name, i) => ({
          name, value: sqtlCounts[i],
          itemStyle: { color: [GREEN, ORANGE][i] },
        })),
        label: {
          show: true, position: "inside", color: "#2a2a14", fontFamily: FONT, fontSize: 17, lineHeight: 20,
          formatter: (p: any) => sqtlLabels[p.dataIndex],
        },
        labelLine: { show: false },
        labelLayout: (p: any) => [{ dx: 6, dy: -14 }, { dx: 8, dy: -9 }][p.dataIndex],
      },
      {
        type: "pie", center: [123, 795], radius: [0, 87], startAngle: 90, clockwise: true,
        silent: true, avoidLabelOverlap: false,
        itemStyle: { borderColor: "#ffffff", borderWidth: 2 },
        data: geneNames.map((name, i) => ({
          name, value: geneCounts[i],
          itemStyle: { color: [GREEN, TEAL, ORANGE][i], borderColor: "#ffffff", borderWidth: 2 },
        })),
        label: {
          show: true, position: "inside", color: "#2a2a14", fontFamily: FONT, fontSize: 17, lineHeight: 20,
          formatter: (p: any) => geneLabels[p.dataIndex],
        },
        labelLine: { show: false },
        labelLayout: (p: any) => [{ dx: 3, dy: -10 }, { dx: 11, dy: 2 }, { dx: -1, dy: -2 }][p.dataIndex],
      },
      {
        type: "scatter", xAxisIndex: 2, yAxisIndex: 2, silent: true, symbolSize: 1.6, z: 2,
        itemStyle: { color: "#a8acac" },
        data: [...cisOutliers.map((v) => [1, v]), ...transOutliers.map((v) => [2, v])],
      },
      {
        type: "custom", xAxisIndex: 2, yAxisIndex: 2, silent: true, z: 3,
        encode: { x: 0, y: [1, 2, 3, 4, 5] },
        data: [boxCis, boxTrans],
        renderItem: (params: any, api: any) => {
          const x = api.value(0);
          const fill = [GREEN, ORANGE][params.dataIndex];
          const edge = "#24381c";
          const low = api.coord([x, api.value(1)]);
          const q1 = api.coord([x, api.value(2)]);
          const med = api.coord([x, api.value(3)]);
          const q3 = api.coord([x, api.value(4)]);
          const high = api.coord([x, api.value(5)]);
          const l = api.coord([x - 0.38, 0])[0];
          const r = api.coord([x + 0.38, 0])[0];
          return {
            type: "group",
            children: [
              { type: "line", shape: { x1: low[0], y1: low[1], x2: q1[0], y2: q1[1] }, style: { stroke: "#3a3a3a", lineWidth: 1.3 } },
              { type: "line", shape: { x1: q3[0], y1: q3[1], x2: high[0], y2: high[1] }, style: { stroke: "#3a3a3a", lineWidth: 1.3 } },
              { type: "rect", shape: { x: l, y: q3[1], width: r - l, height: q1[1] - q3[1] }, style: { fill, stroke: edge, lineWidth: 1.2 } },
              { type: "line", shape: { x1: l, y1: med[1], x2: r, y2: med[1] }, style: { stroke: edge, lineWidth: 2.6 } },
            ],
          };
        },
      },
      {
        type: "bar", xAxisIndex: 3, yAxisIndex: 3, barWidth: 11.7, silent: true,
        itemStyle: { color: BLUE },
        data: geneNumbers,
      },
    ],
  };
}

export default function App() {
  const ref = useRef<HTMLDivElement>(null);
  useEffect(() => {
    if (!ref.current) return;
    const chart = echarts.init(ref.current, undefined, { renderer: "svg" });
    chart.setOption(buildOption());
    return () => chart.dispose();
  }, []);
  return <div ref={ref} style={{ position: "absolute", left: 0, top: 0, width: 800, height: 932 }} />;
}
